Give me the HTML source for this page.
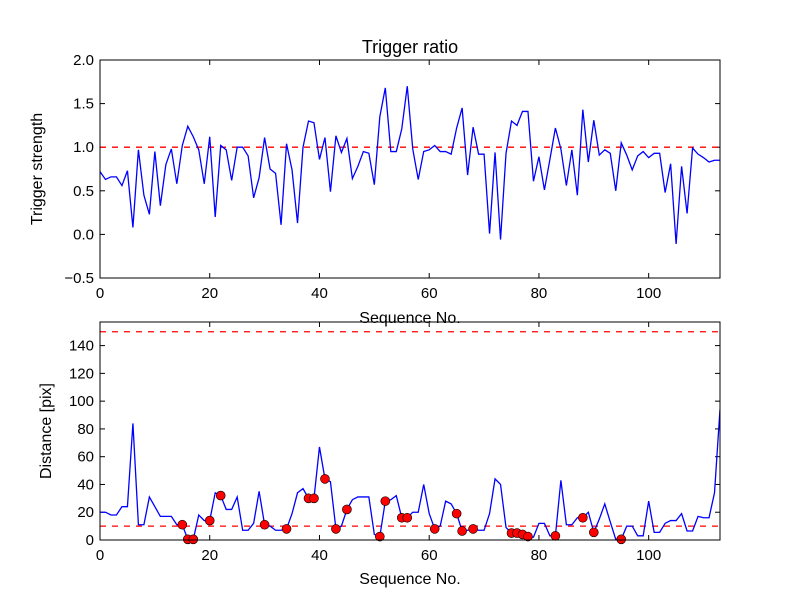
<!DOCTYPE html>
<html><head><meta charset="utf-8"><style>
body{margin:0;background:#fff;}
svg{display:block;font-family:"Liberation Sans","DejaVu Sans",sans-serif;}
</style></head><body>
<svg id="fig" width="800" height="600"></svg>
<script>
const ratio=[0.72,0.63,0.66,0.66,0.56,0.73,0.08,0.97,0.45,0.23,0.95,0.33,0.80,0.98,0.58,1.02,1.24,1.12,0.97,0.58,1.12,0.20,1.02,0.97,0.62,1.0,1.0,0.9,0.42,0.65,1.11,0.75,0.70,0.11,1.04,0.74,0.13,1.0,1.3,1.28,0.86,1.11,0.49,1.13,0.94,1.1,0.64,0.78,0.95,0.93,0.57,1.35,1.68,0.95,0.95,1.21,1.70,0.98,0.63,0.95,0.97,1.02,0.95,0.95,0.92,1.22,1.45,0.68,1.23,0.92,0.92,0.01,0.94,-0.06,0.93,1.3,1.25,1.41,1.41,0.61,0.89,0.51,0.86,1.22,0.98,0.56,0.97,0.45,1.43,0.83,1.31,0.91,0.97,0.93,0.5,1.05,0.91,0.74,0.90,0.95,0.88,0.93,0.93,0.48,0.81,-0.11,0.78,0.24,0.99,0.92,0.88,0.83,0.85,0.85];
const dist=[20,20,18,18,24,24,84,11,11,31,24,17,17,17,11,11,0.5,0.5,18,14,14,34,32,22,22,31,7,7,12,35,11,10,7,7,8,19,34,37,30,30,67,44,42,8,10,22,29,31,31,31,4,2.5,28,29,32,16,16,20,20,40,19,8,10,28,26,19,6.5,7,8,7,7,19,44,40,9,5,5,4,2.5,2,12,12,3,3,43,11,11,16,16,20,5.5,15,26,13,0.5,0.5,10,10,3,3,28,5.5,5.5,12,14,14,19,6.5,6.5,17,16,16,34,94];
const marked=[15,16,17,20,22,30,34,38,39,41,43,45,51,52,55,56,61,65,66,68,75,76,77,78,83,88,90,95];
const topTicks=[-0.5,0.0,0.5,1.0,1.5,2.0];
const botTicks=[0,20,40,60,80,100,120,140];
const xTicks=[0,20,40,60,80,100];
const ratioThreshold=1.0;
const distThresholds=[10,150];

const NS="http://www.w3.org/2000/svg";
const svg=document.getElementById('fig');
function el(t,a,p){const e=document.createElementNS(NS,t);for(const k in a)e.setAttribute(k,a[k]);(p||svg).appendChild(e);return e;}
const XMAX=113;
function mk(L,T,R,B,ymin,ymax){return {L,T,R,B,x:v=>L+(v/XMAX)*(R-L),y:v=>B-(v-ymin)/(ymax-ymin)*(B-T)};}
const A=mk(100,60,720,278,-0.5,2.0);
const Bx=mk(100,322,720,540,0,157);

function axes(ax,ticks,fmt,name){
  const g=el('g',{});
  
  
  xTicks.forEach(t=>{const X=ax.x(t);
    el('line',{x1:X,y1:ax.B,x2:X,y2:ax.B-5,stroke:'#000'},g);
    el('line',{x1:X,y1:ax.T,x2:X,y2:ax.T+5,stroke:'#000'},g);
    const tx=el('text',{x:X,y:ax.B+20,'text-anchor':'middle','font-size':15},g);tx.textContent=t;
    });
  ticks.forEach(t=>{const Y=ax.y(t);
    el('line',{x1:ax.L,y1:Y,x2:ax.L+5,y2:Y,stroke:'#000'},g);
    el('line',{x1:ax.R,y1:Y,x2:ax.R-5,y2:Y,stroke:'#000'},g);
    const tx=el('text',{x:ax.L-6,y:Y+5,'text-anchor':'end','font-size':15},g);tx.textContent=fmt(t);
    });
  return g;
}
function frame(ax,name){const r=el('rect',{x:ax.L,y:ax.T,width:ax.R-ax.L,height:ax.B-ax.T,fill:'none',stroke:'#000','stroke-width':1});
  }

// Top
axes(A,topTicks,t=>(t<0?'\u2212':'')+Math.abs(t).toFixed(1),'top-axes');
let hl=el('line',{x1:A.L,x2:A.R,y1:A.y(ratioThreshold),y2:A.y(ratioThreshold),stroke:'red','stroke-width':1.3,'stroke-dasharray':'6,6'});

let p=el('polyline',{points:ratio.map((v,i)=>A.x(i)+','+A.y(v)).join(' '),fill:'none',stroke:'blue','stroke-width':1.3});

frame(A,'top-plot-frame');

// Bottom
const cp=el('clipPath',{id:'cb'});el('rect',{x:Bx.L,y:Bx.T-6,width:Bx.R-Bx.L,height:Bx.B-Bx.T+12},cp);
axes(Bx,botTicks,t=>String(t),'bottom-axes');
distThresholds.forEach(v=>{const l=el('line',{x1:Bx.L,x2:Bx.R,y1:Bx.y(v),y2:Bx.y(v),stroke:'red','stroke-width':1.3,'stroke-dasharray':'6,6'});
  });
const gb=el('g',{'clip-path':'url(#cb)'});
p=el('polyline',{points:dist.map((v,i)=>Bx.x(i)+','+Bx.y(v)).join(' '),fill:'none',stroke:'blue','stroke-width':1.3},gb);

marked.forEach(i=>{const c=el('circle',{cx:Bx.x(i),cy:Bx.y(dist[i]),r:4.5,fill:'red',stroke:'#000','stroke-width':0.6},gb);
  });
frame(Bx,'bottom-plot-frame');

function txt(s,a,name){const t=el('text',a);t.textContent=s;}
txt('Trigger ratio',{x:410,y:53,'text-anchor':'middle','font-size':18},'chart-title');
txt('Sequence No.',{x:410,y:323,'text-anchor':'middle','font-size':16},'top-x-axis-title');
txt('Sequence No.',{x:410,y:584,'text-anchor':'middle','font-size':16},'bottom-x-axis-title');
txt('Trigger strength',{x:42,y:169,'text-anchor':'middle','font-size':16,transform:'rotate(-90 42 169)'},'top-y-axis-title');
txt('Distance [pix]',{x:51,y:431,'text-anchor':'middle','font-size':16,transform:'rotate(-90 51 431)'},'bottom-y-axis-title');
</script>
</body></html>
